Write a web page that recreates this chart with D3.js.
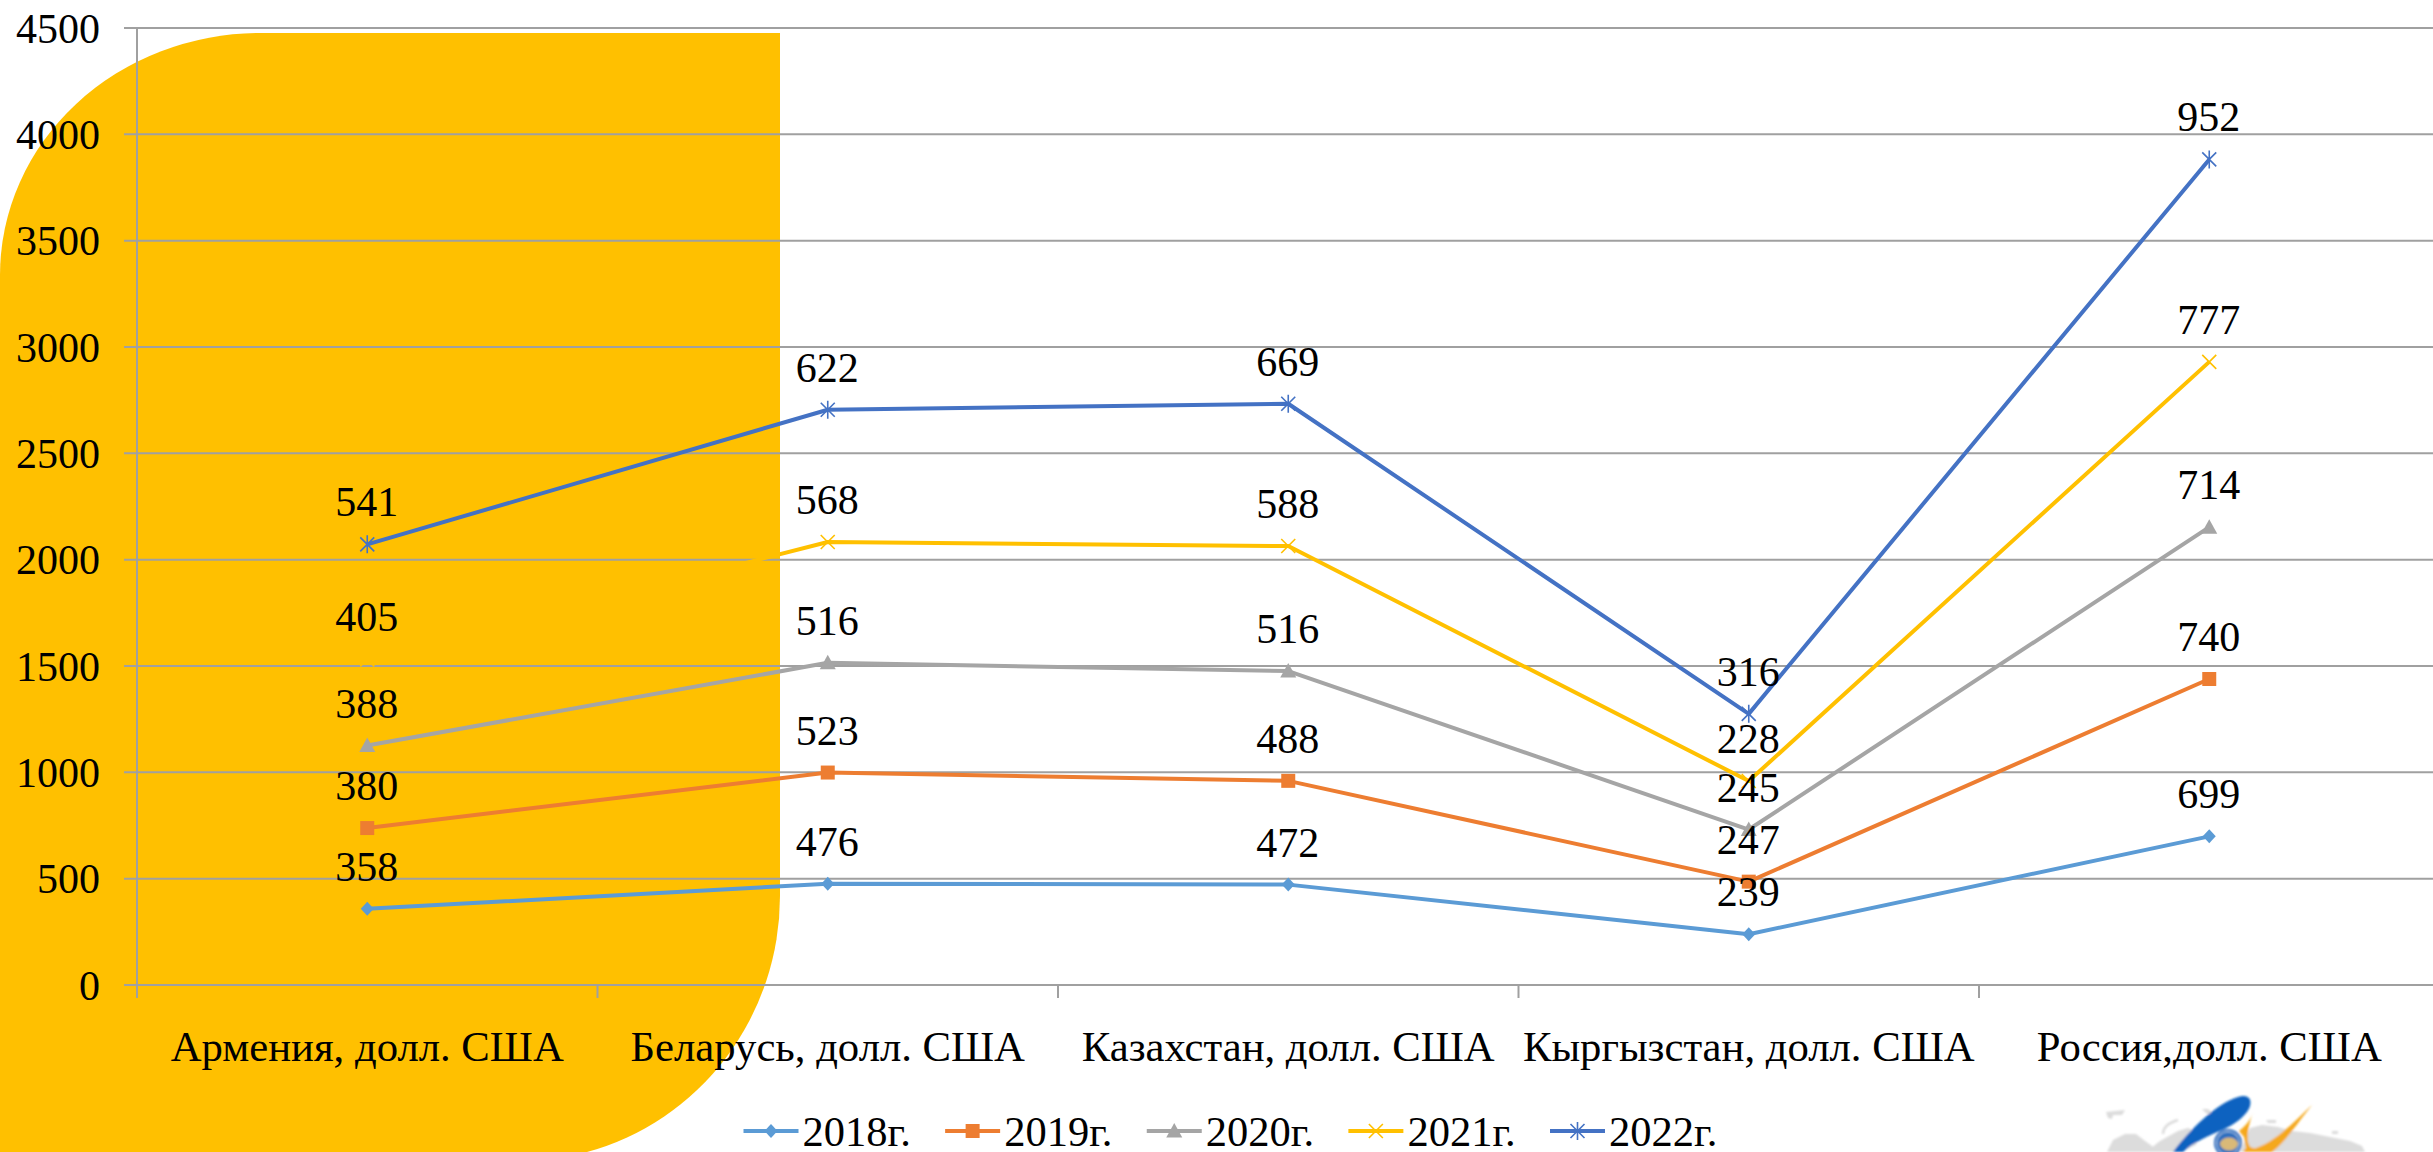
<!DOCTYPE html>
<html><head><meta charset="utf-8">
<style>html,body{margin:0;padding:0;background:#fff;overflow:hidden}svg{display:block}text{font-family:"Liberation Serif","Times New Roman",serif;fill:#000}</style>
<script src="https://cdn.jsdelivr.net/npm/d3@7"></script></head><body><svg id="c" width="2433" height="1152"></svg>
<script>
const categories=["Армения, долл. США","Беларусь, долл. США","Казахстан, долл. США","Кыргызстан, долл. США","Россия,долл. США"];
const years=["2018г.","2019г.","2020г.","2021г.","2022г."];
const v2018=[358,476,472,239,699];
const v2019=[380,523,488,247,740];
const v2020=[388,516,516,245,714];
const v2021=[405,568,588,228,777];
const v2022=[541,622,669,316,952];
const yTicks=[0,500,1000,1500,2000,2500,3000,3500,4000,4500];
const colors=["#5B9BD5","#ED7D31","#A5A5A5","#FFC000","#4472C4"];
const markers=["diamond","square","triangle","x","star"];
const series=[v2018,v2019,v2020,v2021,v2022];

const svg=d3.select("#c");
svg.append("defs").append("filter").attr("id","soft").append("feGaussianBlur").attr("stdDeviation",0.8);
// decorative backdrop
svg.append("path").attr("fill","#FFC000")
 .attr("d","M0,1152 L0,275 A260,242 0 0 1 260,33 L780,33 L780,896 A260,265 0 0 1 587,1152 Z");

const x=d3.scaleBand().domain(categories).range([137,137+460.5*5]);
const y=d3.scaleLinear().domain([0,4500]).range([985,28]);

const grid=svg.append("g").attr("stroke","#A0A0A0").attr("stroke-width",2);
yTicks.forEach(t=>grid.append("line").attr("x1",124).attr("x2",2433).attr("y1",y(t)).attr("y2",y(t)));
const tickX=d3.range(6).map(i=>x.range()[0]+i*x.step());
tickX.forEach((tx,i)=>grid.append("line").attr("x1",tx).attr("x2",tx).attr("y1",i===0?28:985).attr("y2",998));

svg.append("g").selectAll("text").data(yTicks).join("text")
 .attr("x",100).attr("y",d=>y(d)+14.5).attr("text-anchor","end").attr("font-size",42).text(d=>d);
svg.append("g").selectAll("text").data(categories).join("text")
 .attr("x",d=>x(d)+x.bandwidth()/2).attr("y",1061).attr("text-anchor","middle").attr("font-size",42.7).text(d=>d);

function drawMarker(g,type,px,py,color){
 const a=g.append("g").attr("transform",`translate(${px},${py})`);
 if(type==="diamond")a.append("path").attr("d","M0,-7L6.5,0L0,7L-6.5,0Z").attr("fill",color);
 if(type==="square")a.append("path").attr("d","M-7,-7H7V7H-7Z").attr("fill",color);
 if(type==="triangle")a.append("path").attr("d","M0,-8L8,6.5H-8Z").attr("fill",color);
 if(type==="x"||type==="star"){
  const r=7;
  const p=`M${-r},${-r}L${r},${r}M${-r},${r}L${r},${-r}`+(type==="star"?`M0,${-r-2}L0,${r+2}`:"");
  a.append("path").attr("d",p).attr("stroke",color).attr("stroke-width",1.6).attr("fill","none");
 }
}
const line=d3.line().x(d=>d[0]).y(d=>d[1]);
const center=c=>x(c)+x.bandwidth()/2;
const cum=categories.map(()=>0);
const stacked=series.map(s=>s.map((v,i)=>(cum[i]+=v)));
const marks=svg.append("g");
series.forEach((s,k)=>{
 const pts=categories.map((c,i)=>[center(c),y(stacked[k][i])]);
 marks.append("path").attr("d",line(pts)).attr("fill","none").attr("stroke",colors[k]).attr("stroke-width",4).attr("stroke-linejoin","round");
 pts.forEach(p=>drawMarker(marks,markers[k],p[0],p[1],colors[k]));
});
const labels=svg.append("g");
series.forEach((s,k)=>s.forEach((v,i)=>labels.append("text")
 .attr("x",center(categories[i])-0.5).attr("y",y(stacked[k][i])-28).attr("text-anchor","middle").attr("font-size",42).text(v)));

// legend
const lx=d3.scalePoint().domain(years).range([743.5,1550]);
const lg=svg.append("g");
years.forEach((t,k)=>{
 const x0=lx(t);
 lg.append("line").attr("x1",x0).attr("x2",x0+55).attr("y1",1131).attr("y2",1131).attr("stroke",colors[k]).attr("stroke-width",4);
 drawMarker(lg,markers[k],x0+27.5,1131,colors[k]);
 lg.append("text").attr("x",x0+59).attr("y",1146).attr("font-size",42.5).text(t);
});

// emblem, lower right
const em=svg.append("g").attr("filter","url(#soft)");
const grey="#DCDCDC";
em.append("path").attr("fill",grey).attr("d","M2107,1152 L2113,1140 L2125,1134 L2136,1134 L2145,1141 L2152,1146 L2158,1152 Z");
em.append("path").attr("fill",grey).attr("d","M2146,1152 L2160,1141 L2178,1131 L2188,1128 L2200,1133 L2196,1145 L2180,1152 Z");
em.append("path").attr("fill",grey).attr("d","M2240,1152 L2250,1128 L2262,1125 L2278,1127 L2292,1131 L2310,1133 L2330,1137 L2350,1141 L2362,1146 L2365,1152 Z");
em.append("path").attr("fill",grey).attr("d","M2106,1112 L2125,1110 L2122,1115 L2113,1115 L2112,1119 L2108,1118 Z");
em.append("path").attr("fill",grey).attr("d","M2202,1109 L2208,1109 L2214,1114 L2207,1114 Z M2266,1120 L2276,1120 L2276,1123 L2268,1123 Z M2332,1131 L2338,1131 L2338,1134 L2332,1134 Z");
em.append("path").attr("fill","none").attr("stroke",grey).attr("stroke-width",2.5).attr("d","M2178,1120 C2168,1123 2163,1128 2163,1134");
em.append("path").attr("fill","#0F62C0").attr("d","M2173,1152 C2190,1130 2215,1104 2238,1097 C2248,1094 2252,1099 2250,1106 C2248,1114 2235,1125 2222,1130 C2208,1136 2192,1143 2183,1152 Z");
em.append("path").attr("fill","#F5A81C").attr("d","M2253,1112 C2250,1122 2244,1127 2239,1131 L2244,1137 L2246,1148 C2244,1150 2244,1151 2243,1152 L2272,1152 C2285,1143 2298,1122 2312,1105 C2294,1122 2275,1142 2256,1148 C2246,1150 2245,1135 2253,1112 Z");
em.append("circle").attr("cx",2228).attr("cy",1143).attr("r",14).attr("fill","#2E6FBF");
em.append("circle").attr("cx",2228).attr("cy",1143).attr("r",11.5).attr("fill","none").attr("stroke","#BFD6EE").attr("stroke-width",1);
em.append("ellipse").attr("cx",2229).attr("cy",1144).attr("rx",9).attr("ry",6.5).attr("fill","#D9B978");
</script></body></html>
